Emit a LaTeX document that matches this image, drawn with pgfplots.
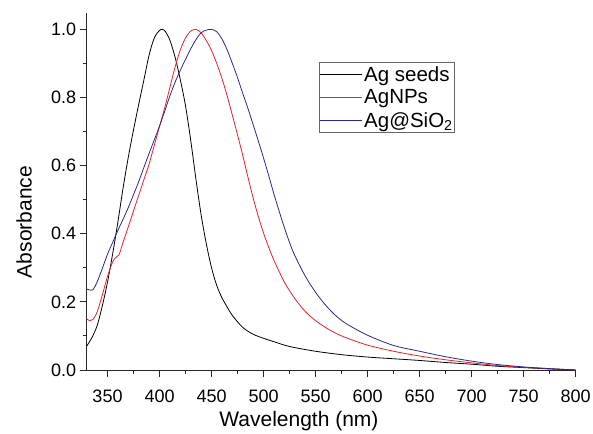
\documentclass[border=0pt]{standalone}
\usepackage{fontspec}
\setmainfont{Liberation Sans}
\usepackage{pgfplots}
\pgfplotsset{compat=1.18}

\definecolor{agblue}{RGB}{40,40,150}
\definecolor{agred}{RGB}{240,30,35}
\definecolor{axgray}{RGB}{40,40,40}

\begin{document}
\begin{tikzpicture}
\begin{axis}[
    scale only axis,
    width=489pt, height=357.3pt,
    xmin=330, xmax=800, ymin=0, ymax=1.049,
    axis lines=left,
    axis line style={-, line width=0.9pt, axgray},
    xtick={350,400,...,800},
    ytick={0,0.2,0.4,0.6,0.8,1.0},
    minor x tick num=1, minor y tick num=1,
    tick align=outside,
    major tick length=7pt, minor tick length=4pt,
    every tick/.style={line width=0.9pt, axgray},
    ticklabel style={font=\fontsize{18}{18}\selectfont},
    /pgf/number format/assume math mode=true,
    yticklabel style={/pgf/number format/.cd, fixed, fixed zerofill, precision=1},
    xticklabel style={yshift=-9pt, /pgf/number format/.cd, 1000 sep={}},
    xlabel={Wavelength (nm)},
    ylabel={Absorbance},
    label style={font=\fontsize{21}{21}\selectfont},
    xlabel style={at={(axis description cs:0.434,-0.143)}, anchor=center},
    ylabel style={at={(axis description cs:-0.128,0.414)}, anchor=center},
    legend style={at={(0.475,0.862)}, anchor=north west, draw=black!60,
        line width=0.8pt, font=\fontsize{20.5}{20.5}\selectfont,
        inner xsep=0pt, inner ysep=2pt, row sep=3pt, cells={anchor=west}},
    legend image code/.code={\draw[#1, line width=0.8pt] (0pt,0pt) -- (42pt,0pt);},
]

\addplot[black, line width=0.8pt, smooth, tension=0.5] coordinates {
(330,0.070) (335,0.095) (340,0.130) (345,0.188) (350,0.258) (355,0.342)
(360,0.435) (365,0.535) (370,0.625) (375,0.705) (380,0.780) (385,0.852)
(390,0.925) (395,0.975) (400,0.997) (403,1.000) (406,0.992) (410,0.968)
(415,0.918) (420,0.852) (425,0.775) (430,0.674) (435,0.560) (440,0.455)
(445,0.370) (450,0.300) (455,0.248) (460,0.212) (465,0.185) (470,0.160)
(480,0.125) (490,0.105) (500,0.093) (510,0.083) (525,0.069) (550,0.055)
(575,0.045) (600,0.038) (625,0.033) (650,0.028) (675,0.022) (700,0.017)
(725,0.011) (750,0.007) (775,0.003) (800,0.000)
};
\addlegendentry{Ag seeds}

\addplot[agred, line width=0.8pt, smooth, tension=0.5] coordinates {
(330,0.150) (333,0.145) (336,0.148) (340,0.170) (345,0.220) (350,0.275)
(355,0.318) (358,0.330) (361,0.338) (365,0.375) (370,0.421) (375,0.467)
(380,0.513) (385,0.559) (390,0.605) (395,0.660) (400,0.715) (405,0.770)
(410,0.830) (415,0.890) (420,0.940) (425,0.975) (430,0.995) (435,1.000)
(440,0.990) (445,0.967) (450,0.938) (455,0.900) (460,0.856) (465,0.805)
(470,0.748) (475,0.690) (480,0.630) (485,0.566) (490,0.505) (495,0.450)
(500,0.402) (505,0.360) (510,0.322) (520,0.258) (530,0.210) (540,0.172)
(550,0.145) (560,0.124) (570,0.107) (580,0.094) (600,0.073) (625,0.055)
(650,0.041) (675,0.030) (700,0.021) (725,0.013) (750,0.008) (775,0.004)
(800,0.000)
};
\addlegendentry{AgNPs}

\addplot[agblue, line width=0.8pt, smooth, tension=0.5] coordinates {
(330,0.238) (333,0.235) (336,0.236) (340,0.258) (345,0.298) (350,0.340)
(355,0.375) (360,0.410) (365,0.443) (370,0.477) (375,0.515) (380,0.553)
(385,0.595) (390,0.636) (395,0.676) (400,0.716) (405,0.760) (410,0.805)
(415,0.845) (420,0.880) (425,0.912) (430,0.943) (435,0.970) (440,0.990)
(445,0.998) (450,1.000) (455,0.993) (460,0.972) (465,0.940) (470,0.900)
(475,0.858) (480,0.812) (485,0.768) (490,0.720) (495,0.672) (500,0.622)
(505,0.570) (510,0.516) (515,0.466) (520,0.418) (525,0.374) (530,0.336)
(540,0.276) (550,0.228) (560,0.189) (570,0.158) (580,0.135) (600,0.102)
(625,0.072) (650,0.055) (675,0.039) (700,0.026) (725,0.016) (750,0.009)
(775,0.004) (800,0.000)
};
\addlegendentry{Ag@SiO\textsubscript{2}}

\end{axis}
\pgfresetboundingbox
\path[use as bounding box] ([shift={(-86.7pt,-63pt)}]current axis.south west)
    rectangle ([shift={(17.3pt,12.7pt)}]current axis.north east);
\end{tikzpicture}
\end{document}
